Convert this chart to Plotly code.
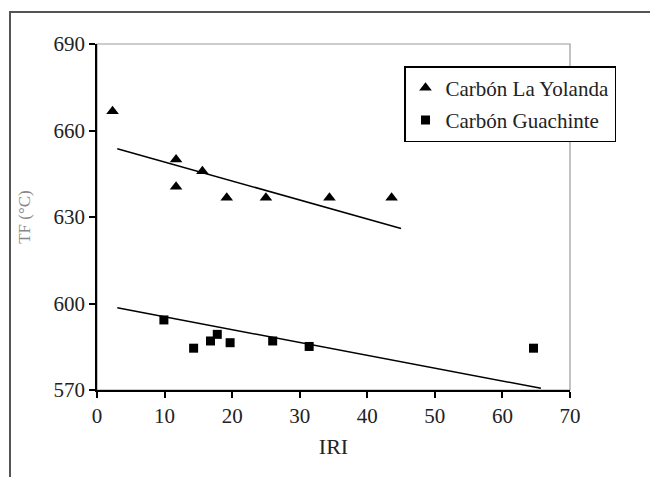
import plotly.graph_objects as go

# Data
yolanda_x = [2.3, 11.7, 11.7, 15.6, 19.2, 25.0, 34.4, 43.6]
yolanda_y = [666.7, 649.9, 640.5, 645.9, 636.7, 636.7, 636.7, 636.7]
guachinte_x = [9.9, 14.3, 16.8, 17.8, 19.7, 26.0, 31.4, 64.6]
guachinte_y = [594.3, 584.5, 587.0, 589.3, 586.4, 587.0, 585.1, 584.5]
# trend line endpoints
yolanda_fit_x = [3.0, 45.0]
yolanda_fit_y = [653.7, 626.0]
guachinte_fit_x = [3.0, 65.7]
guachinte_fit_y = [598.5, 570.6]

x_ticks = [0, 10, 20, 30, 40, 50, 60, 70]
y_ticks = [570, 600, 630, 660, 690]

FONT = "Liberation Serif"

fig = go.Figure()
fig.add_trace(go.Scatter(x=yolanda_fit_x, y=yolanda_fit_y, mode="lines",
                         line=dict(color="black", width=1.5), showlegend=False, hoverinfo="skip"))
fig.add_trace(go.Scatter(x=guachinte_fit_x, y=guachinte_fit_y, mode="lines",
                         line=dict(color="black", width=1.5), showlegend=False, hoverinfo="skip"))
fig.add_trace(go.Scatter(x=yolanda_x, y=yolanda_y, mode="markers", name="Carbón La Yolanda",
                         legendgroup="a",
                         marker=dict(symbol="triangle-up", size=11, color="black")))
fig.add_trace(go.Scatter(x=guachinte_x, y=guachinte_y, mode="markers", name="Carbón Guachinte",
                         legendgroup="b",
                         marker=dict(symbol="square", size=9, color="black")))

W, H = 650, 477
L, R, T, B = 97, 80, 44, 87
pw, ph = W - L - R, H - T - B

def px_to_paper_x(px):
    return (px - L) / pw

def px_to_paper_y(py):
    return (H - B - py) / ph

fig.update_layout(
    width=W, height=H,
    margin=dict(l=L, r=R, t=T, b=B),
    paper_bgcolor="white", plot_bgcolor="white",
    font=dict(family=FONT, size=21, color="#222"),
    xaxis=dict(range=[0, 70], tickvals=x_ticks, showgrid=False, zeroline=False,
               showline=True, linecolor="black", linewidth=1.5,
               ticks="outside", ticklen=6, tickwidth=1.5, tickcolor="black",
               title=dict(text="IRI", font=dict(size=22, color="#222"), standoff=12)),
    yaxis=dict(range=[570, 690], tickvals=y_ticks, showgrid=False, zeroline=False,
               showline=True, linecolor="black", linewidth=1.5,
               ticks="outside", ticklen=6, tickwidth=1.5, tickcolor="black",
               title=dict(text="TF (°C)", font=dict(size=17, color="#888"), standoff=19)),
    legend=dict(x=px_to_paper_x(404), y=px_to_paper_y(66), xanchor="left", yanchor="top",
                bgcolor="white", bordercolor="black", borderwidth=1.5,
                font=dict(family=FONT, size=21, color="#222"),
                traceorder="grouped", tracegroupgap=2, itemwidth=30),
    shapes=[
        # plot-area frame (grey top/right)
        dict(type="rect", xref="paper", yref="paper", x0=0, x1=1, y0=0, y1=1,
             line=dict(color="#999", width=1.2), layer="below"),
        # outer picture frame
        dict(type="rect", xref="paper", yref="paper",
             x0=px_to_paper_x(10), x1=px_to_paper_x(700),
             y0=px_to_paper_y(520), y1=px_to_paper_y(12),
             line=dict(color="#555", width=2), layer="below"),
    ],
)

fig.write_html("out.html")
